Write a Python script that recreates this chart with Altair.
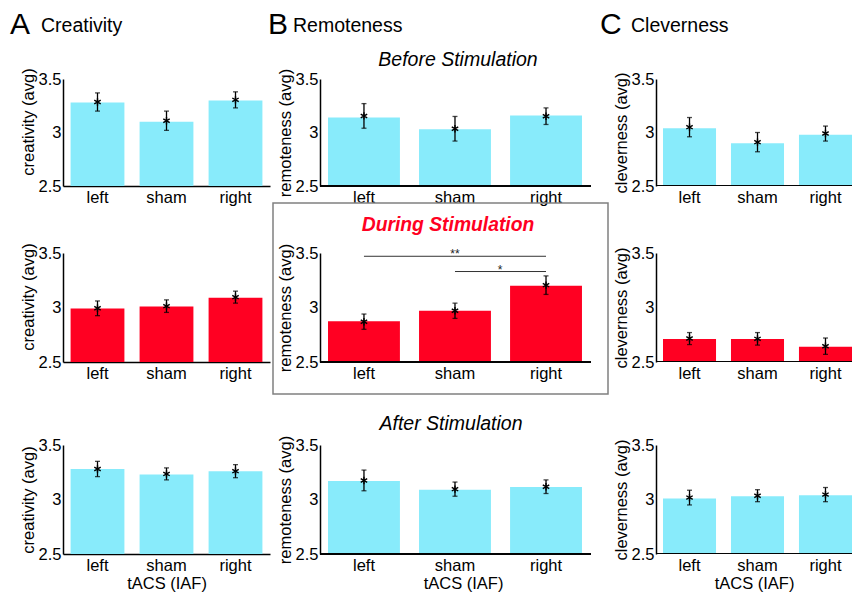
import altair as alt
import pandas as pd

FONT = "Liberation Sans"
CYAN = "#88EBFB"
RED = "#FF0022"
STAR = "M0,-1L0,1M-0.87,-0.5L0.87,0.5M-0.87,0.5L0.87,-0.5"

categories = ["left", "sham", "right"]

# Before stimulation
creativity_before_mean = [3.28, 3.10, 3.30]
creativity_before_lo = [3.20, 3.02, 3.23]
creativity_before_hi = [3.37, 3.20, 3.38]
remoteness_before_mean = [3.14, 3.03, 3.16]
remoteness_before_lo = [3.04, 2.92, 3.075]
remoteness_before_hi = [3.27, 3.15, 3.23]
cleverness_before_mean = [3.04, 2.90, 2.98]
cleverness_before_lo = [2.96, 2.82, 2.92]
cleverness_before_hi = [3.14, 3.00, 3.06]

# During stimulation
creativity_during_mean = [2.99, 3.01, 3.09]
creativity_during_lo = [2.925, 2.955, 3.04]
creativity_during_hi = [3.06, 3.07, 3.15]
remoteness_during_mean = [2.875, 2.97, 3.20]
remoteness_during_lo = [2.80, 2.90, 3.12]
remoteness_during_hi = [2.94, 3.04, 3.29]
cleverness_during_mean = [2.71, 2.71, 2.64]
cleverness_during_lo = [2.66, 2.655, 2.57]
cleverness_during_hi = [2.77, 2.77, 2.72]

# After stimulation
creativity_after_mean = [3.28, 3.23, 3.26]
creativity_after_lo = [3.21, 3.18, 3.20]
creativity_after_hi = [3.35, 3.29, 3.32]
remoteness_after_mean = [3.17, 3.09, 3.115]
remoteness_after_lo = [3.08, 3.03, 3.055]
remoteness_after_hi = [3.27, 3.16, 3.18]
cleverness_after_mean = [3.01, 3.03, 3.04]
cleverness_after_lo = [2.95, 2.98, 2.98]
cleverness_after_hi = [3.085, 3.09, 3.11]

# significance (remoteness, during)
sig_from = ["left", "sham"]
sig_to = ["right", "right"]
sig_level = [3.47, 3.33]
sig_text = ["**", "*"]

y_ticks = [2.5, 3, 3.5]
column_letters = ["A", "B", "C"]
column_titles = ["Creativity", "Remoteness", "Cleverness"]
y_titles = ["creativity (avg)", "remoteness (avg)", "cleverness (avg)"]
phase_titles = ["Before Stimulation", "During Stimulation", "After Stimulation"]
x_title = "tACS (IAF)"

# layout (styles / sizes)
COL_W = [207, 286, 196]
COL_BAND = [
    dict(paddingInner=0.22, paddingOuter=0.11),
    dict(paddingInner=0.21, paddingOuter=0.176, align=0.25),
    dict(paddingInner=0.22, paddingOuter=0.0515, align=1),
]
ROW_H = [107, 109, 125]
ROW_YRANGE = [None, None, [125, 16]]
LETTER_X = [-53, -52, -56]
TITLE_X = [-22, -27, -25]


def text_layer(text, x, y, size, align="left", style="normal", weight="normal",
               color="black"):
    return alt.Chart(pd.DataFrame({"t": [text]})).mark_text(
        align=align, baseline="alphabetic", fontSize=size, fontStyle=style,
        fontWeight=weight, color=color, font=FONT
    ).encode(x=alt.value(x), y=alt.value(y), text="t:N")


def panel(mean, lo, hi, col, row):
    color = RED if row == 1 else CYAN
    df = pd.DataFrame({"cond": categories, "mean": mean, "lo": lo, "hi": hi})
    df["base"] = 2.5
    df["mid"] = (df["lo"] + df["hi"]) / 2

    xs = dict(domain=categories, **COL_BAND[col])
    ys = dict(domain=[2.5, 3.5], nice=False, zero=False)
    if ROW_YRANGE[row]:
        ys["range"] = ROW_YRANGE[row]

    xaxis_kw = dict(domain=(col == 0), domainColor="black", domainWidth=1.5,
                    ticks=False, labelAngle=0, labelPadding=3, labelFontSize=16.5,
                    titleFontSize=16.5, titlePadding=2, grid=False)
    xaxis_kw["title"] = x_title if row == 2 else None
    xaxis = alt.Axis(**xaxis_kw)
    yaxis_kw = dict(values=y_ticks, format="~g", title=y_titles[col],
                    domainColor="black", domainWidth=1.5, ticks=False,
                    labelPadding=2, labelFontSize=16.5, titleFontSize=16.5,
                    titlePadding=2, grid=False)
    if col == 0 and row < 2:
        yaxis_kw["titleY"] = ROW_H[row] / 2 - 11
    yaxis = alt.Axis(**yaxis_kw)

    base = alt.Chart(df)
    bars = base.mark_bar(color=color, clip=True).encode(
        x=alt.X("cond:N", scale=alt.Scale(**xs), axis=xaxis),
        y=alt.Y("mean:Q", scale=alt.Scale(**ys), axis=yaxis),
        y2="base:Q",
    )
    err = base.mark_rule(color="black", strokeWidth=1.3).encode(
        x="cond:N", y="lo:Q", y2="hi:Q")
    cap_lo = base.mark_tick(color="black", size=5, thickness=1.3).encode(
        x="cond:N", y="lo:Q")
    cap_hi = base.mark_tick(color="black", size=5, thickness=1.3).encode(
        x="cond:N", y="hi:Q")
    star = base.mark_point(shape=STAR, size=55, color="black", strokeWidth=1.4,
                           filled=False, opacity=1).encode(x="cond:N", y="mid:Q")
    layers = [bars, err, cap_lo, cap_hi, star]

    # x axis line
    if col == 1:
        layers.append(base.mark_rule(color="black", strokeWidth=1.5).encode(
            y=alt.datum(2.5), x=alt.value(0), x2=alt.value(271)))
    if col == 2:
        layers.append(base.mark_rule(color="black", strokeWidth=1.5, clip=True)
                      .encode(y=alt.datum(2.5)))

    if row == 0:
        layers.append(text_layer(column_letters[col], LETTER_X[col], -45, 30))
        layers.append(text_layer(column_titles[col], TITLE_X[col], -47, 19.5))

    if col == 1:
        if row == 0:
            layers.append(text_layer(phase_titles[0], 138, -13, 19.5, align="center",
                                     style="italic"))
        if row == 1:
            layers.append(text_layer(phase_titles[1], 128, -22, 19.3, align="center",
                                     style="italic", weight="bold", color=RED))
            box = alt.Chart(pd.DataFrame({"a": [0]})).mark_rect(
                fillOpacity=0, stroke="#808080", strokeWidth=1.5
            ).encode(x=alt.value(-47), x2=alt.value(288), y=alt.value(-50),
                     y2=alt.value(141))
            layers.insert(0, box)
            sig = pd.DataFrame({"from": sig_from, "to": sig_to,
                                "level": sig_level, "label": sig_text})
            layers.append(alt.Chart(sig).mark_rule(color="#333333", strokeWidth=1)
                          .encode(x="from:N", x2="to:N", y="level:Q"))
            layers.append(alt.Chart(sig.iloc[[0]]).mark_text(
                fontSize=12, color="#222222", baseline="alphabetic", dy=2, font=FONT)
                .encode(x="to:N", y="level:Q", text="label:N")
                .transform_calculate(to="'sham'"))
            layers.append(alt.Chart(sig.iloc[[1]]).mark_text(
                fontSize=12, color="#222222", baseline="alphabetic", dx=-10, dy=2,
                font=FONT)
                .encode(x=alt.X("to:N", bandPosition=0), y="level:Q", text="label:N"))
        if row == 2:
            layers.append(text_layer(phase_titles[2], 131, 1, 19.5, align="center",
                                     style="italic"))

    return alt.layer(*layers).properties(width=COL_W[col], height=ROW_H[row])


panels = [
    panel(creativity_before_mean, creativity_before_lo, creativity_before_hi, 0, 0),
    panel(remoteness_before_mean, remoteness_before_lo, remoteness_before_hi, 1, 0),
    panel(cleverness_before_mean, cleverness_before_lo, cleverness_before_hi, 2, 0),
    panel(creativity_during_mean, creativity_during_lo, creativity_during_hi, 0, 1),
    panel(remoteness_during_mean, remoteness_during_lo, remoteness_during_hi, 1, 1),
    panel(cleverness_during_mean, cleverness_during_lo, cleverness_during_hi, 2, 1),
    panel(creativity_after_mean, creativity_after_lo, creativity_after_hi, 0, 2),
    panel(remoteness_after_mean, remoteness_after_lo, remoteness_after_hi, 1, 2),
    panel(cleverness_after_mean, cleverness_after_lo, cleverness_after_hi, 2, 2),
]

chart = alt.ConcatChart(
    concat=panels, columns=3, spacing={"row": 67, "column": 50}, bounds="flush"
).configure(
    padding={"left": 10, "top": 10, "right": 0, "bottom": 0}, font=FONT
).configure_view(
    strokeWidth=0
).configure_axis(
    labelFont=FONT, titleFont=FONT, labelColor="black", titleColor="black",
    titleFontWeight="normal"
)

chart.save("out.html", embed_options={"renderer": "svg", "actions": False})
